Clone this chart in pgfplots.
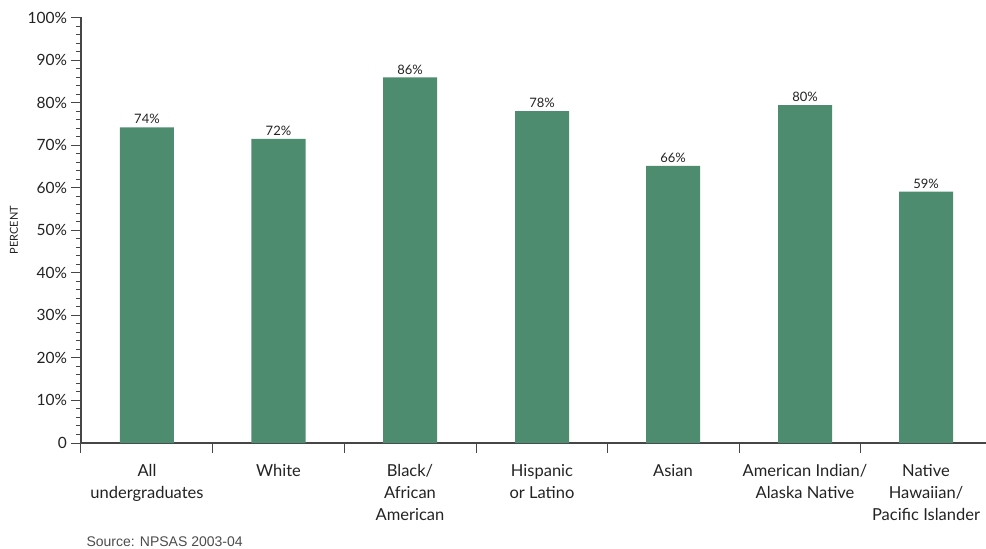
\documentclass[border=0pt]{standalone}
\usepackage{pgfplots}
\pgfplotsset{compat=1.18}
\usepackage{pgfplotstable}
\usepackage{fontspec}
\setmainfont{Lato}
\newfontfamily\srcfont{Liberation Sans}
\definecolor{barg}{RGB}{78,140,112}
\definecolor{axg}{RGB}{70,70,70}
\definecolor{txt}{RGB}{35,35,35}
\pgfplotstableread{
x y lab
147 74.2 74
278.5 71.5 72
410 85.9 86
542 78.0 78
673 65.1 66
805 79.4 80
926 59.1 59
}\bars
\begin{document}
\begin{tikzpicture}
\begin{axis}[
  scale only axis, width=905pt, height=425.5pt,
  xmin=81, xmax=986, ymin=0, ymax=100,
  axis x line*=bottom, axis y line*=left,
  axis line style={axg, line width=1.3pt},
  every tick/.style={axg, line width=1pt},
  tick align=outside,
  ytick={0,10,...,100},
  yticklabels={0,10\%,20\%,30\%,40\%,50\%,60\%,70\%,80\%,90\%,100\%},
  minor y tick num=4,
  major tick length=9.5pt, minor tick length=5pt,
  y tick label style={font=\fontsize{15.5}{17}\selectfont, text=txt, xshift=-1pt},
  xtick={81,213,344,476,607,739,860},
  xticklabels={},
  extra x ticks={147,278.5,410,542,673,805,926},
  extra x tick labels={All\\undergraduates,White,Black/\\African\\American,Hispanic\\or Latino,Asian,American Indian/\\Alaska Native,Native\\Hawaiian/\\Pacific Islander},
  extra x tick style={tick style={draw=none}, tick label style={align=center, anchor=north, yshift=-8pt, font=\fontsize{16.5}{22}\selectfont, text=txt}},
  ylabel={PERCENT},
  ylabel style={at={(axis description cs:0,0.5)}, anchor=center, yshift=67pt, font=\fontsize{11}{12}\selectfont, text=txt},
  ybar, bar width=54,
  nodes near coords={\pgfplotspointmeta\%},
  point meta=explicit symbolic,
  every node near coord/.style={font=\fontsize{13}{14}\selectfont, text=txt, anchor=south, inner sep=3pt},
  clip=false,
]
\addplot[fill=barg, draw=none] table[x=x, y=y, meta=lab] {\bars};
\end{axis}
\node[anchor=base west, font=\srcfont\fontsize{14}{16}\selectfont, text=black!70] at (2pt,-103pt) {Source: NPSAS 2003-04};
\pgfresetboundingbox
\path (-81pt,-106pt) rectangle (905pt,443pt);
\end{tikzpicture}
\end{document}
